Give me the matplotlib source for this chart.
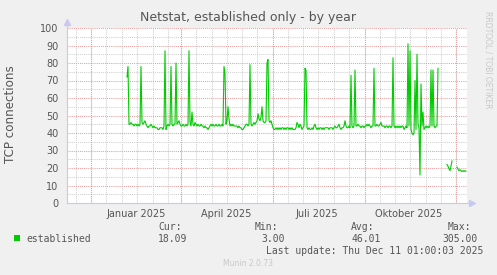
import numpy as np
import pandas as pd
import matplotlib
matplotlib.use('Agg')
import matplotlib.pyplot as plt
import matplotlib.dates as mdates

# graph window (one pixel column per day)
x_start = pd.Timestamp('2024-11-07')
x_end = pd.Timestamp('2025-12-12')

# daily values of "established"
seg1_start = '2025-01-06'
seg1 = [72, 78, 45, 45, 46, 45, 45, 44, 45, 45,
        44, 45, 44, 45, 78, 46, 45, 46, 47, 45,
        44, 43, 44, 44, 45, 44, 43, 44, 43, 43,
        43, 42, 42, 43, 43, 43, 42, 44, 87, 42,
        44, 45, 44, 45, 78, 45, 44, 45, 45, 80,
        45, 46, 47, 45, 44, 44, 45, 44, 44, 45,
        44, 45, 87, 46, 44, 52, 45, 44, 46, 45,
        44, 45, 44, 44, 45, 44, 44, 43, 44, 43,
        43, 42, 43, 44, 45, 44, 45, 44, 44, 45,
        44, 44, 45, 44, 44, 45, 44, 78, 74, 45,
        47, 55, 48, 44, 45, 44, 45, 44, 44, 44,
        44, 43, 44, 43, 43, 42, 42, 43, 44, 45,
        45, 44, 45, 79, 45, 44, 45, 46, 45, 46,
        47, 51, 48, 47, 49, 55, 47, 46, 46, 47,
        80, 82, 47, 46, 47, 45, 43, 42, 42, 43,
        42, 43, 42, 43, 42, 43, 43, 42, 43, 42,
        43, 43, 42, 43, 42, 43, 42, 42, 42, 43,
        46, 45, 43, 45, 44, 42, 43, 44, 77, 76,
        43, 42, 43, 42, 42, 43, 42, 44, 45, 43,
        42, 43, 42, 43, 43, 42, 43, 42, 43, 43,
        43, 43, 42, 43, 43, 43, 42, 43, 44, 43,
        43, 44, 45, 43, 42, 43, 43, 44, 47, 44,
        43, 43, 44, 43, 73, 44, 43, 44, 76, 44,
        44, 45, 44, 44, 43, 44, 44, 43, 44, 44,
        45, 44, 45, 44, 43, 44, 44, 77, 44, 44,
        45, 44, 44, 45, 46, 44, 44, 44, 43, 44,
        44, 43, 44, 44, 43, 44, 83, 44, 43, 44,
        43, 44, 43, 44, 43, 44, 44, 42, 43, 44,
        43, 91, 44, 87, 42, 40, 39, 40, 70, 42,
        85, 45, 43, 16, 68, 44, 52, 42, 43, 44,
        43, 44, 43, 44, 76, 44, 76, 44, 43, 44,
        44, 77]
seg2_start = '2025-11-22'
seg2 = [22, 21, 19.5, 18.5, 21, 24]
seg3_start = '2025-12-02'
seg3 = [20.5, 19.5, 18.5, 19, 18.5, 18, 18.5, 18, 18.5, 18.09]

label_dates = ['2025-01-15', '2025-04-15', '2025-07-15', '2025-10-15']
month_labels = ['Januar 2025', 'April 2025', 'Juli 2025', 'Oktober 2025']

legend_name = 'established'
cur_val, min_val, avg_val, max_val = '18.09', '3.00', '46.01', '305.00'
last_update = 'Last update: Thu Dec 11 01:00:03 2025'

# build one daily series with gaps
parts = []
for start, vals in [(seg1_start, seg1), (seg2_start, seg2), (seg3_start, seg3)]:
    parts.append(pd.Series(vals, index=pd.date_range(start, periods=len(vals), freq='D')))
series = pd.concat(parts)
series = series.reindex(pd.date_range(x_start, x_end, freq='D'))

W, H = 497, 275
bg = '#F0F0F0'
txt = '#555555'
axis_col = '#C8C8F0'
green = '#00CC00'

fig = plt.figure(figsize=(W / 100, H / 100), dpi=100, facecolor=bg)
ax = fig.add_axes([67 / W, 1 - 203 / H, 400 / W, 175 / H])
ax.set_facecolor('white')
ax.set_xlim(x_start, x_end)
ax.set_ylim(0, 100)
for s in ax.spines.values():
    s.set_visible(False)

# grid: grey minor (month + mid month, every 5), red major (quarters, every 10)
minor_col = '#D0D0D0'
major_col = '#E8A0A0'
dots = (0, (1, 1))
for m in pd.date_range('2024-11-01', '2025-12-31', freq='MS'):
    for d in [m, m + pd.Timedelta(days=15)]:
        if x_start < d < x_end:
            ax.axvline(d, color=minor_col, lw=0.75, ls=dots, zorder=1)
for y in range(5, 100, 10):
    ax.axhline(y, color=minor_col, lw=0.75, ls=dots, zorder=1)
for d in ['2024-12-01', '2025-03-01', '2025-06-01', '2025-09-01', '2025-12-01']:
    ax.axvline(pd.Timestamp(d), color=major_col, lw=0.75, ls=dots, zorder=2)
for y in range(10, 101, 10):
    ax.axhline(y, color=major_col, lw=0.75, ls=dots, zorder=2)

ax.plot(series.index, series.values, color=green, lw=0.8, zorder=4)

# axes with arrows
ax.plot([0, 0], [0, 1.03], transform=ax.transAxes, color=axis_col, lw=0.8, clip_on=False, zorder=5)
ax.plot([0, 1.01], [0, 0], transform=ax.transAxes, color=axis_col, lw=0.8, clip_on=False, zorder=5)
ax.plot([0], [1.035], transform=ax.transAxes, marker='^', ms=4, color=axis_col, clip_on=False, zorder=5)
ax.plot([1.012], [0], transform=ax.transAxes, marker='>', ms=4, color=axis_col, clip_on=False, zorder=5)

ax.set_yticks(range(0, 101, 10))
ax.set_xticks(pd.to_datetime(label_dates))
ax.set_xticklabels(month_labels)
ax.tick_params(axis='both', length=0, labelsize=7, labelcolor=txt)
ax.tick_params(axis='y', pad=6)
ax.tick_params(axis='x', pad=4)

fig.text(248 / W, 1 - 17 / H, 'Netstat, established only - by year', ha='center', va='center',
         fontsize=9, color=txt)
fig.text(11 / W, 1 - 114 / H, 'TCP connections', rotation=90, ha='center', va='center',
         fontsize=8.6, color=txt)
fig.text(488 / W, 1 - 60 / H, 'RRDTOOL / TOBI OETIKER', rotation=270, ha='center', va='center',
         fontsize=5.5, color='#C8C8C8')

# legend block
mono = 'DejaVu Sans Mono'
fs = 7
ax_leg = fig.add_axes([14 / W, 1 - 241 / H, 6 / W, 6 / H])
ax_leg.axis('off')
ax_leg.add_patch(plt.Rectangle((0, 0), 1, 1, color=green))
fig.text(26 / W, 1 - 239 / H, legend_name, family=mono, fontsize=fs, color=txt, va='center')
fig.text(158 / W, 1 - 227 / H, 'Cur:', family=mono, fontsize=fs, color=txt, va='center')
fig.text(158 / W, 1 - 239 / H, cur_val, family=mono, fontsize=fs, color=txt, va='center')
fig.text(255 / W, 1 - 227 / H, 'Min:', family=mono, fontsize=fs, color=txt, va='center')
fig.text(285 / W, 1 - 239 / H, min_val, family=mono, fontsize=fs, color=txt, va='center', ha='right')
fig.text(351 / W, 1 - 227 / H, 'Avg:', family=mono, fontsize=fs, color=txt, va='center')
fig.text(351 / W, 1 - 239 / H, avg_val, family=mono, fontsize=fs, color=txt, va='center')
fig.text(471 / W, 1 - 227 / H, 'Max:', family=mono, fontsize=fs, color=txt, va='center', ha='right')
fig.text(478 / W, 1 - 239 / H, max_val, family=mono, fontsize=fs, color=txt, va='center', ha='right')
fig.text(483 / W, 1 - 251 / H, last_update, family=mono, fontsize=fs, color=txt, va='center', ha='right')
fig.text(248 / W, 1 - 264 / H, 'Munin 2.0.73', fontsize=5.5, color='#C8C8C8', ha='center', va='center')

fig.savefig('out.png', dpi=100, facecolor=bg)
